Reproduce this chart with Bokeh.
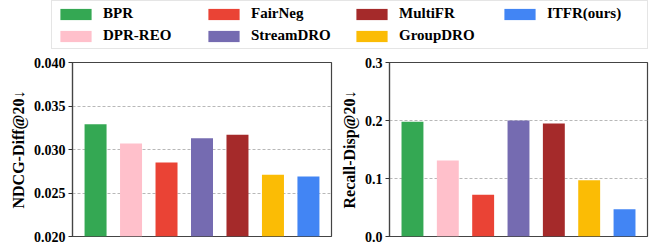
from bokeh.plotting import figure
from bokeh.models import (ColumnDataSource, Range1d, FixedTicker, PrintfTickFormatter,
                          Legend, LegendItem)
from bokeh.layouts import column, row
from bokeh.embed import file_html
from bokeh.resources import INLINE

methods = ["BPR", "DPR-REO", "FairNeg", "StreamDRO", "MultiFR", "GroupDRO", "ITFR(ours)"]
colors = ["#34a853", "#ffc0cb", "#ea4335", "#756bb1", "#a52a2a", "#fbbc05", "#4285f4"]
ndcg_diff = [0.0329, 0.0307, 0.0285, 0.0313, 0.0317, 0.0271, 0.0269]
recall_disp = [0.198, 0.131, 0.072, 0.200, 0.195, 0.097, 0.047]
ndcg_ticks = [0.020, 0.025, 0.030, 0.035, 0.040]
recall_ticks = [0.0, 0.1, 0.2, 0.3]

FONT = "Liberation Serif"
xpos = list(range(len(methods)))

src = ColumnDataSource(dict(x=xpos, method=methods, color=colors,
                            ndcg=ndcg_diff, recall=recall_disp))


def make_panel(col, ylabel, ticks, fmt, width, border_left, border_right):
    p = figure(width=width, height=194, toolbar_location=None, output_backend="svg",
               x_range=Range1d(-0.65, len(methods) - 0.35),
               y_range=Range1d(ticks[0], ticks[-1]),
               min_border_left=border_left, min_border_right=border_right,
               min_border_top=8, min_border_bottom=12)
    p.vbar(x="x", top=col, bottom=0, width=0.62, source=src, fill_color="color",
           line_color=None)
    p.xaxis.visible = False
    p.xgrid.visible = False
    p.ygrid.grid_line_color = "#b8b8b8"
    p.ygrid.grid_line_dash = "3 2"
    p.ygrid.grid_line_width = 1
    p.yaxis.ticker = FixedTicker(ticks=ticks)
    p.yaxis.formatter = PrintfTickFormatter(format=fmt)
    p.yaxis.axis_label = ylabel
    p.yaxis.axis_label_text_font = FONT
    p.yaxis.axis_label_text_font_style = "bold"
    p.yaxis.axis_label_text_font_size = "16px"
    p.yaxis.axis_label_text_color = "black"
    p.yaxis.axis_label_standoff = 4
    p.yaxis.major_label_text_font = FONT
    p.yaxis.major_label_text_font_style = "bold"
    p.yaxis.major_label_text_font_size = "14px"
    p.yaxis.major_label_text_color = "black"
    p.yaxis.major_label_standoff = 3
    p.yaxis.major_tick_out = 4
    p.yaxis.major_tick_in = 0
    p.yaxis.minor_tick_out = 0
    p.yaxis.minor_tick_in = 0
    p.yaxis.major_tick_line_color = "#333333"
    p.yaxis.axis_line_color = "#444444"
    p.yaxis.axis_line_width = 1.2
    p.outline_line_color = "#444444"
    p.outline_line_width = 1.2
    p.outline_line_alpha = 1
    return p


p1 = make_panel("ndcg", "NDCG-Diff@20↓", ndcg_ticks, "%.3f", 337, 72, 6)
p2 = make_panel("recall", "Recall-Disp@20↓", recall_ticks, "%.1f", 330, 51, 20)

# legend strip
lf = figure(width=667, height=54, toolbar_location=None, output_backend="svg",
            x_range=Range1d(-0.65, len(methods) - 0.35), y_range=Range1d(1, 2),
            min_border=0)
lf.axis.visible = False
lf.grid.visible = False
lf.outline_line_color = None
r = lf.vbar(x="x", top="ndcg", bottom=0, width=0.62, source=src, fill_color="color",
            line_color=None)
items = [LegendItem(label=m, renderers=[r], index=i) for i, m in enumerate(methods)]
legend = Legend(items=items, location=(51, 5), orientation="vertical", ncols=4,
                glyph_width=39, glyph_height=14, label_standoff=8, label_width=96,
                label_height=17, spacing=5, padding=4, margin=0,
                border_line_color="#cccccc", border_line_width=1,
                background_fill_color="white", background_fill_alpha=1,
                label_text_font=FONT, label_text_font_style="bold",
                label_text_font_size="15px", label_text_color="black")
lf.add_layout(legend)

layout = column(lf, row(p1, p2))
open("out.html", "w").write(file_html(layout, INLINE))
